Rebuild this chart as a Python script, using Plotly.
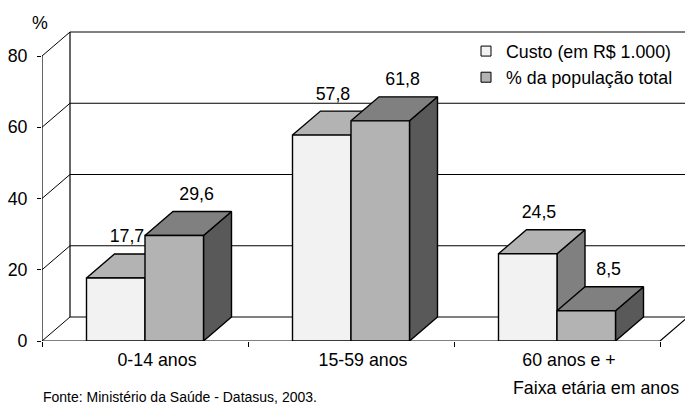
import plotly.graph_objects as go

# ---- data ----
categories = ["0-14 anos", "15-59 anos", "60 anos e +"]
custo = [17.7, 57.8, 24.5]
populacao = [29.6, 61.8, 8.5]
value_labels_custo = ["17,7", "57,8", "24,5"]
value_labels_pop = ["29,6", "61,8", "8,5"]
y_ticks = [0, 20, 40, 60, 80]
series_names = ["Custo (em R$ 1.000)", "% da população total"]

# ---- geometry / style ----
W_PX, H_PX = 685, 404
M_L, M_B = 42, 63
PX_CAT = 206.0          # px per category
PX_VAL = 3.5625         # px per value unit
DX = 28 / PX_CAT        # depth offset (x) in category units
DY = 24 / PX_VAL        # depth offset (y) in value units
BW = 58.5 / PX_CAT      # bar width
X0 = -0.5
X_MAX = X0 + (W_PX - M_L) / PX_CAT
Y_MAX = (H_PX - M_B) / PX_VAL
FONT = "Liberation Sans, Arial, sans-serif"
FS = 17.8

C_FRONT = ["#f2f2f2", "#b3b3b3"]
C_TOP = ["#b3b3b3", "#808080"]
C_SIDE = ["#808080", "#595959"]

fig = go.Figure()

def line_trace(xs, ys, width=1):
    fig.add_trace(go.Scatter(x=xs, y=ys, mode="lines", showlegend=False, hoverinfo="skip",
                             line=dict(color="black", width=width)))

# frame: back wall grid lines, side wall diagonals, edges
gx, gy = [], []
for v in y_ticks:
    gx += [X0 + DX, X_MAX + 1, None]
    gy += [v + DY, v + DY, None]
    gx += [X0, X0 + DX, None]
    gy += [v, v + DY, None]
line_trace(gx, gy, 1)
line_trace([X0 + DX, X0 + DX], [DY, y_ticks[-1] + DY], 1.2)       # back wall left edge
line_trace([X0, X0], [0, y_ticks[-1]], 1.2)                      # value axis
n = len(categories)
line_trace([X0, X0 + n, X0 + n + DX], [0, 0, DY], 1.2)           # floor front + right edges

# bars
def faces(values, offset):
    fx, fy, tx, ty, sx, sy = [], [], [], [], [], []
    for i, v in enumerate(values):
        x0 = i + offset
        x1 = x0 + BW
        fx += [x0, x1, x1, x0, x0, None]; fy += [0, 0, v, v, 0, None]
        tx += [x0, x1, x1 + DX, x0 + DX, x0, None]; ty += [v, v, v + DY, v + DY, v, None]
        sx += [x1, x1 + DX, x1 + DX, x1, x1, None]; sy += [0, DY, v + DY, v, 0, None]
    return (sx, sy), (tx, ty), (fx, fy)

for k, (vals, off) in enumerate([(custo, -BW), (populacao, 0.0)]):
    side, top, front = faces(vals, off)
    for (xs, ys), col in [(side, C_SIDE[k]), (top, C_TOP[k]), (front, C_FRONT[k])]:
        fig.add_trace(go.Scatter(x=xs, y=ys, mode="lines", fill="toself", fillcolor=col,
                                 line=dict(color="black", width=1.4), showlegend=False,
                                 hoverinfo="skip"))

# value labels
lab_dy = 16 / PX_VAL
fig.add_trace(go.Scatter(
    x=[i - BW / 2 + 0.4 * DX for i in range(n)],
    y=[v + DY + lab_dy for v in custo], mode="text", text=value_labels_custo,
    textfont=dict(size=FS, color="black", family=FONT), showlegend=False, cliponaxis=False,
    hoverinfo="skip"))
fig.add_trace(go.Scatter(
    x=[i + BW / 2 + 0.8 * DX for i in range(n)],
    y=[v + DY + lab_dy for v in populacao], mode="text", text=value_labels_pop,
    textfont=dict(size=FS, color="black", family=FONT), showlegend=False, cliponaxis=False,
    hoverinfo="skip"))

# legend entries
for k, name in enumerate(series_names):
    fig.add_trace(go.Scatter(x=[None], y=[None], mode="markers", name=name,
                             legendgroup=f"g{k}",
                             marker=dict(symbol="square", size=10, color=C_FRONT[k],
                                         line=dict(color="black", width=1))))

fig.update_layout(
    width=W_PX, height=H_PX,
    margin=dict(l=M_L, r=0, t=0, b=M_B),
    paper_bgcolor="white", plot_bgcolor="white",
    font=dict(family=FONT, size=FS, color="black"),
    showlegend=True,
    legend=dict(x=(466 - M_L) / (W_PX - M_L), y=1 - 33 / (H_PX - M_B),
                xanchor="left", yanchor="top", bgcolor="rgba(0,0,0,0)",
                font=dict(size=FS), tracegroupgap=0),
    xaxis=dict(range=[X0, X_MAX], showgrid=False, zeroline=False, showline=False,
               tickvals=[i + 12 / PX_CAT for i in range(n)], ticktext=categories,
               ticks="", ticklabelstandoff=6,
               minor=dict(tickvals=[X0 + j for j in range(n + 1)], ticks="outside",
                          ticklen=5, tickcolor="black", showgrid=False)),
    yaxis=dict(range=[0, Y_MAX], showgrid=False, zeroline=False, showline=False,
               tickvals=y_ticks, ticks="outside", ticklen=4, tickcolor="black",
               ticklabelstandoff=6),
    annotations=[
        dict(text="%", xref="paper", yref="paper", x=(40 - M_L) / (W_PX - M_L),
             y=1 - 23 / (H_PX - M_B), showarrow=False, xanchor="center", yanchor="middle",
             font=dict(size=FS)),
        dict(text="Faixa etária em anos", xref="paper", yref="paper", x=1 - 4 / (W_PX - M_L),
             y=-(388 - (H_PX - M_B)) / (H_PX - M_B), showarrow=False, xanchor="right",
             yanchor="middle", font=dict(size=FS)),
        dict(text="Fonte: Ministério da Saúde - Datasus, 2003.", xref="paper", yref="paper",
             x=(41 - M_L) / (W_PX - M_L), y=-(397 - (H_PX - M_B)) / (H_PX - M_B),
             showarrow=False, xanchor="left", yanchor="middle", font=dict(size=14)),
    ],
)

fig.write_html("out.html", config={"displayModeBar": False, "staticPlot": True},
               post_script="document.body.style.margin='0';document.body.style.overflow='hidden';")
